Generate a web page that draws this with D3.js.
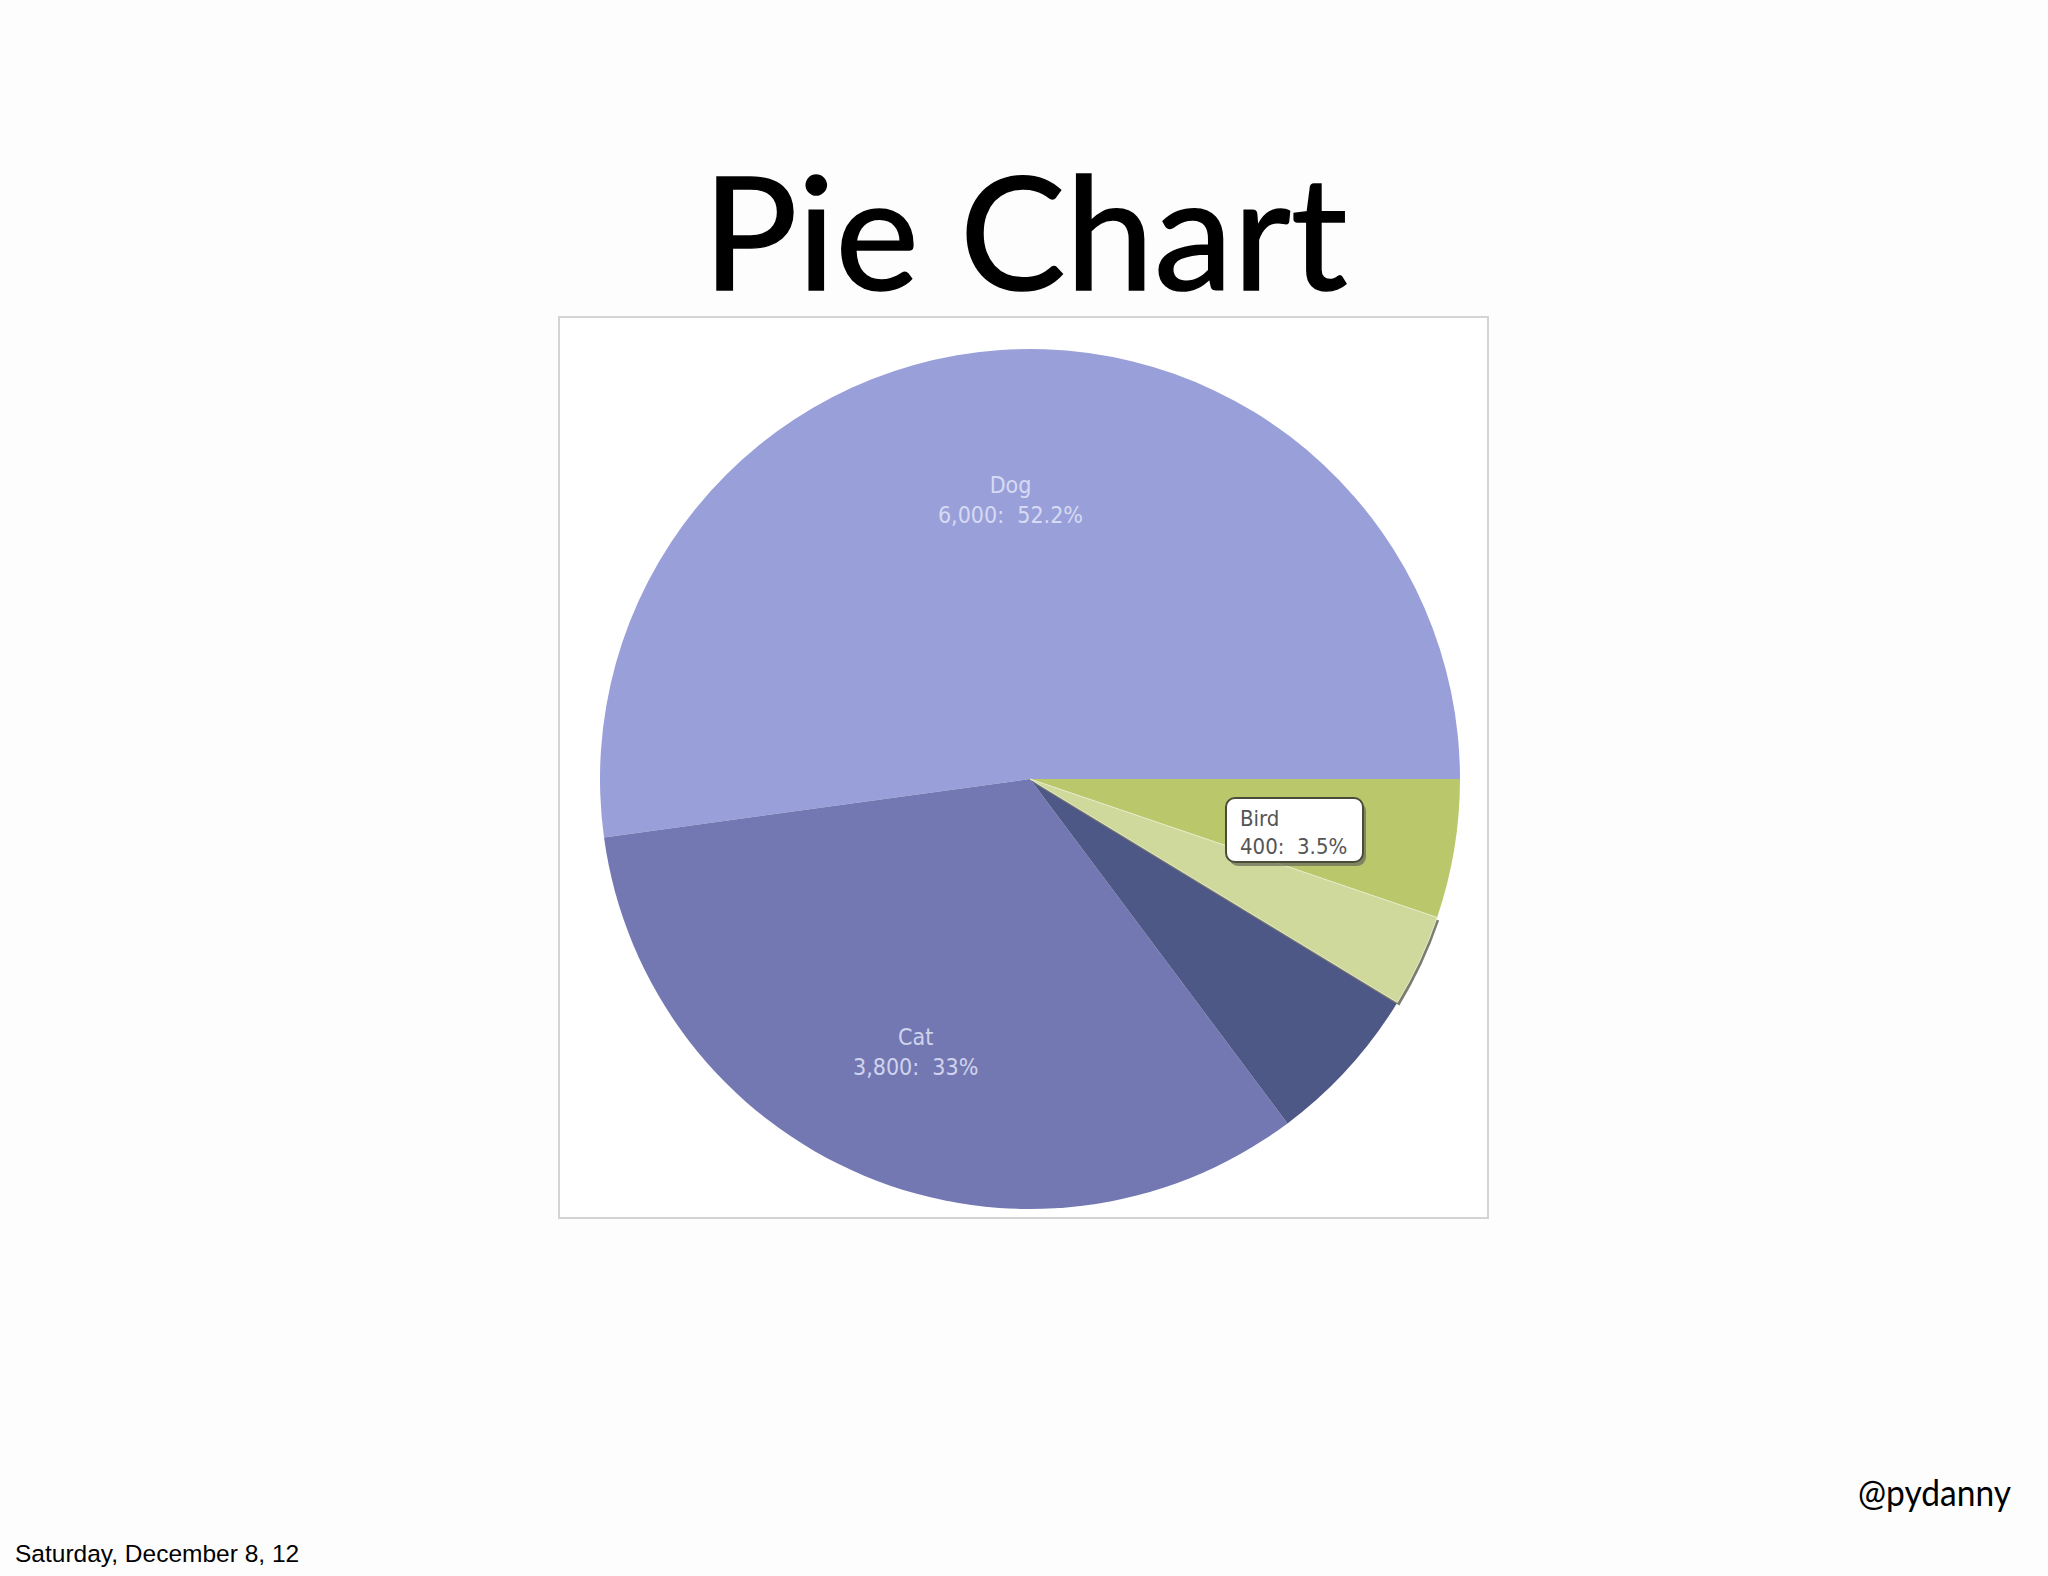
<!DOCTYPE html>
<html>
<head>
<meta charset="utf-8">
<script src="https://cdn.jsdelivr.net/npm/d3@7"></script>
<style>
  html, body { margin: 0; padding: 0; background: #fdfdfd; }
  svg { display: block; }
</style>
</head>
<body>
<svg id="chart" width="2048" height="1576"></svg>
<script>
// ---- data ----
const categories = ["Dog", "Cat", "Fish", "Bird", "Other"];
const values = [6000, 3800, 700, 400, 600];
const shownLabels = ["Dog", "Cat"];
const tooltipCategory = "Bird";
const sliceColors = ["#99a0d9", "#7378b3", "#4e5886", "#d0d99c", "#bbc76b"];

const titleText = "Pie Chart";
const authorText = "@pydanny";
const dateText = "Saturday, December 8, 12";

// ---- layout ----
const svg = d3.select("#chart");
const W = 2048, H = 1576;
const cx = 1030, cy = 779, R = 430;

svg.append("rect").attr("width", W).attr("height", H).attr("fill", "#fdfdfd");

// title
svg.append("text")
  .attr("x", 1025).attr("y", 290)
  .attr("text-anchor", "middle")
  .attr("font-family", "Lato, 'Open Sans', sans-serif")
  .attr("font-size", 158)
  .attr("textLength", 645).attr("lengthAdjust", "spacingAndGlyphs")
  .attr("fill", "#000")
  .attr("stroke", "#000").attr("stroke-width", 1.5)
  .text(titleText);

// chart frame
svg.append("rect")
  .attr("x", 559).attr("y", 317)
  .attr("width", 929).attr("height", 901)
  .attr("fill", "#ffffff")
  .attr("stroke", "#d4d4d4").attr("stroke-width", 2);

const data = categories.map((c, i) => ({ name: c, value: values[i] }));
const total = d3.sum(values);

const pie = d3.pie()
  .value(d => d.value)
  .sort(null)
  .startAngle(Math.PI / 2)
  .endAngle(Math.PI / 2 - 2 * Math.PI);

const arcs = pie(data);
const arc = d3.arc().innerRadius(0).outerRadius(R);
const color = d3.scaleOrdinal().domain(categories).range(sliceColors);

const g = svg.append("g").attr("transform", `translate(${cx},${cy})`);

// non-highlighted slices
g.selectAll("path.slice")
  .data(arcs.filter(a => a.data.name !== tooltipCategory))
  .join("path")
  .attr("class", "slice")
  .attr("d", arc)
  .attr("fill", d => color(d.data.name));

// highlighted slice with shadow
const hi = arcs.find(a => a.data.name === tooltipCategory);
g.append("path")
  .attr("d", arc(hi))
  .attr("transform", "translate(2,3)")
  .attr("fill", "#7c7d70");
g.append("path")
  .attr("d", arc(hi))
  .attr("fill", color(hi.data.name))
  .attr("stroke", "#e6ebc8").attr("stroke-width", 1);

// in-slice labels
const fmt = d3.format(",");
const pctFmt = v => {
  const p = v / total * 100;
  return (Math.round(p * 10) / 10).toString().replace(/\.0$/, "") + "%";
};
const labelArc = d3.arc().innerRadius(R * 0.665).outerRadius(R * 0.665);
const lbl = g.selectAll("g.lbl")
  .data(arcs.filter(a => shownLabels.includes(a.data.name)))
  .join("g")
  .attr("class", "lbl")
  .attr("transform", d => `translate(${labelArc.centroid(d)})`);
lbl.append("text")
  .attr("y", d => d.data.name === "Cat" ? 2 : -1)
  .attr("x", d => d.data.name === "Cat" ? -4 : 0)
  .attr("text-anchor", "middle")
  .attr("font-family", "'DejaVu Sans Condensed', 'DejaVu Sans', sans-serif")
  .attr("font-size", 23)
  .attr("fill", "#e2e5f8").attr("fill-opacity", 0.85)
  .text(d => d.data.name);
lbl.append("text")
  .attr("y", d => d.data.name === "Cat" ? 32 : 29)
  .attr("x", d => d.data.name === "Cat" ? -4 : 0)
  .attr("text-anchor", "middle")
  .attr("font-family", "'DejaVu Sans Condensed', 'DejaVu Sans', sans-serif")
  .attr("font-size", 23)
  .attr("fill", "#e2e5f8").attr("fill-opacity", 0.85)
  .attr("xml:space", "preserve")
  .text(d => fmt(d.data.value) + ":  " + pctFmt(d.data.value));

// tooltip
const tx = cx + 196, ty = cy + 19, tw = 137, th = 64;
const tip = svg.append("g").attr("transform", `translate(${tx},${ty})`);
tip.append("rect")
  .attr("x", 3).attr("y", 4).attr("width", tw).attr("height", th)
  .attr("rx", 9).attr("fill", "#6e6f5c").attr("opacity", 0.75);
tip.append("rect")
  .attr("x", 0).attr("y", 0).attr("width", tw).attr("height", th)
  .attr("rx", 9).attr("fill", "#ffffff")
  .attr("stroke", "#4a4c3a").attr("stroke-width", 2);
tip.append("text")
  .attr("x", 14).attr("y", 28)
  .attr("font-family", "'DejaVu Sans Condensed', 'DejaVu Sans', sans-serif")
  .attr("font-size", 22).attr("fill", "#555")
  .text(hi.data.name);
tip.append("text")
  .attr("x", 14).attr("y", 56)
  .attr("font-family", "'DejaVu Sans Condensed', 'DejaVu Sans', sans-serif")
  .attr("font-size", 22).attr("fill", "#555")
  .attr("xml:space", "preserve")
  .text(fmt(hi.data.value) + ":  " + pctFmt(hi.data.value));

// author
svg.append("text")
  .attr("x", 1858).attr("y", 1506)
  .attr("font-family", "Lato, 'Open Sans', sans-serif")
  .attr("font-size", 37)
  .attr("textLength", 153).attr("lengthAdjust", "spacingAndGlyphs")
  .attr("fill", "#000")
  .text(authorText);

// date footer
svg.append("text")
  .attr("x", 15).attr("y", 1562)
  .attr("font-family", "'Liberation Sans', Arial, sans-serif")
  .attr("font-size", 24.5)
  .attr("fill", "#000")
  .text(dateText);
</script>
</body>
</html>
